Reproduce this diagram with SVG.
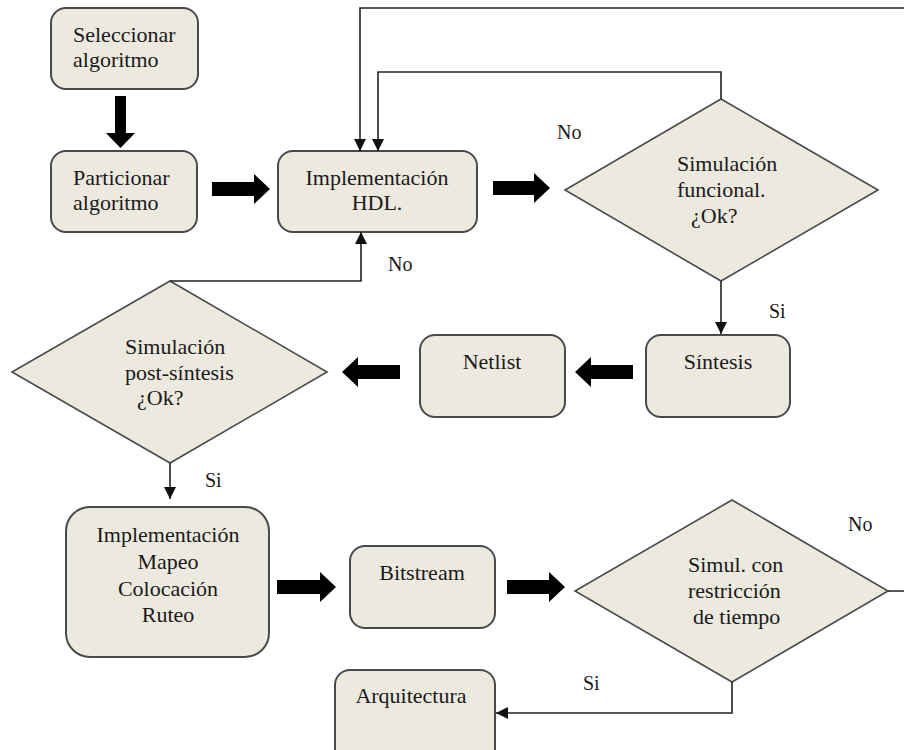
<svg xmlns="http://www.w3.org/2000/svg" width="904" height="750" viewBox="0 0 904 750">
  <style>
    .box { fill: #ECE9DF; stroke: #4a4a4a; stroke-width: 2; }
    .dec { fill: #ECE9DF; stroke: #4a4a4a; stroke-width: 1.6; }
    .t { font-family: "Liberation Serif", "Times New Roman", serif; font-size: 22px; fill: #1a1a1a; }
    .c { text-anchor: middle; }
    .lbl { font-family: "Liberation Serif", "Times New Roman", serif; font-size: 20px; fill: #1a1a1a; }
    .wire { fill: none; stroke: #222; stroke-width: 1.6; }
    .fat { fill: #000; }
  </style>
  <defs>
    <marker id="tip" viewBox="0 0 12 12" refX="12" refY="6" markerWidth="12" markerHeight="12" markerUnits="userSpaceOnUse" orient="auto">
      <path d="M0,0 L12,6 L0,12 Z" fill="#111"/>
    </marker>
  </defs>

  <!-- process boxes -->
  <g id="seleccionar">
    <rect class="box" x="51" y="8" width="147" height="81" rx="15"/>
    <text class="t" x="73" y="42">Seleccionar</text>
    <text class="t" x="73" y="67">algoritmo</text>
  </g>
  <g id="particionar">
    <rect class="box" x="51" y="151" width="146" height="81" rx="15"/>
    <text class="t" x="73" y="185">Particionar</text>
    <text class="t" x="73" y="210">algoritmo</text>
  </g>
  <g id="hdl">
    <rect class="box" x="278" y="151" width="199" height="81" rx="15"/>
    <text class="t c" x="377" y="185">Implementación</text>
    <text class="t c" x="377" y="210">HDL.</text>
  </g>
  <g id="sim-funcional">
    <polygon class="dec" points="721,99 878,190 721,281 565,190"/>
    <text class="t" x="677" y="171">Simulación</text>
    <text class="t" x="677" y="197">funcional.</text>
    <text class="t" x="691" y="223">¿Ok?</text>
  </g>
  <g id="sintesis">
    <rect class="box" x="646" y="335" width="144" height="82" rx="15"/>
    <text class="t c" x="718" y="369">Síntesis</text>
  </g>
  <g id="netlist">
    <rect class="box" x="420" y="335" width="145" height="82" rx="15"/>
    <text class="t c" x="492" y="369">Netlist</text>
  </g>
  <g id="sim-post">
    <polygon class="dec" points="170,281 327,372 170,463 12,372"/>
    <text class="t" x="125" y="354">Simulación</text>
    <text class="t" x="125" y="380">post-síntesis</text>
    <text class="t" x="137" y="405">¿Ok?</text>
  </g>
  <g id="implementacion">
    <rect class="box" x="66" y="507" width="203" height="150" rx="24"/>
    <text class="t c" x="168" y="542">Implementación</text>
    <text class="t c" x="168" y="569">Mapeo</text>
    <text class="t c" x="168" y="596">Colocación</text>
    <text class="t c" x="168" y="622">Ruteo</text>
  </g>
  <g id="bitstream">
    <rect class="box" x="350" y="546" width="145" height="82" rx="15"/>
    <text class="t c" x="422" y="580">Bitstream</text>
  </g>
  <g id="sim-tiempo">
    <polygon class="dec" points="732,500 888,591 732,682 575,591"/>
    <text class="t" x="688" y="572">Simul. con</text>
    <text class="t" x="688" y="598">restricción</text>
    <text class="t" x="693" y="624">de tiempo</text>
  </g>
  <g id="arquitectura">
    <rect class="box" x="335" y="670" width="160" height="100" rx="15"/>
    <text class="t c" x="411" y="703">Arquitectura</text>
  </g>

  <!-- connectors -->
  <g id="connectors">
    <!-- block arrows between steps -->
    <path class="fat" d="M115,96 H126 V133 H135 L120.5,148 L106,133 H115 Z"/>
    <path class="fat" d="M212,182 H254 V174 L270,189 L254,204 V196 H212 Z"/>
    <path class="fat" d="M493,181 H534 V173 L550,188 L534,203 V195 H493 Z"/>
    <path class="fat" d="M633,365 H591 V357 L575,372 L591,387 V379 H633 Z"/>
    <path class="fat" d="M400,365 H358 V357 L342,372 L358,387 V379 H400 Z"/>
    <path class="fat" d="M277,580 H320 V572 L336,587 L320,602 V594 H277 Z"/>
    <path class="fat" d="M507,580 H549 V572 L565,587 L549,602 V594 H507 Z"/>

    <!-- decision branches -->
    <path class="wire" d="M888,591 H912 V8 H360 V151" marker-end="url(#tip)"/>
    <path class="wire" d="M721,99 V72 H378 V151" marker-end="url(#tip)"/>
    <path class="wire" d="M721,281 V334" marker-end="url(#tip)"/>
    <path class="wire" d="M170,281 H361 V232" marker-end="url(#tip)"/>
    <path class="wire" d="M170,463 V499" marker-end="url(#tip)"/>
    <path class="wire" d="M732,682 V713 H496" marker-end="url(#tip)"/>

    <text class="lbl" x="557" y="139">No</text>
    <text class="lbl" x="769" y="318">Si</text>
    <text class="lbl" x="388" y="271">No</text>
    <text class="lbl" x="205" y="487">Si</text>
    <text class="lbl" x="848" y="531">No</text>
    <text class="lbl" x="583" y="690">Si</text>
  </g>
</svg>
